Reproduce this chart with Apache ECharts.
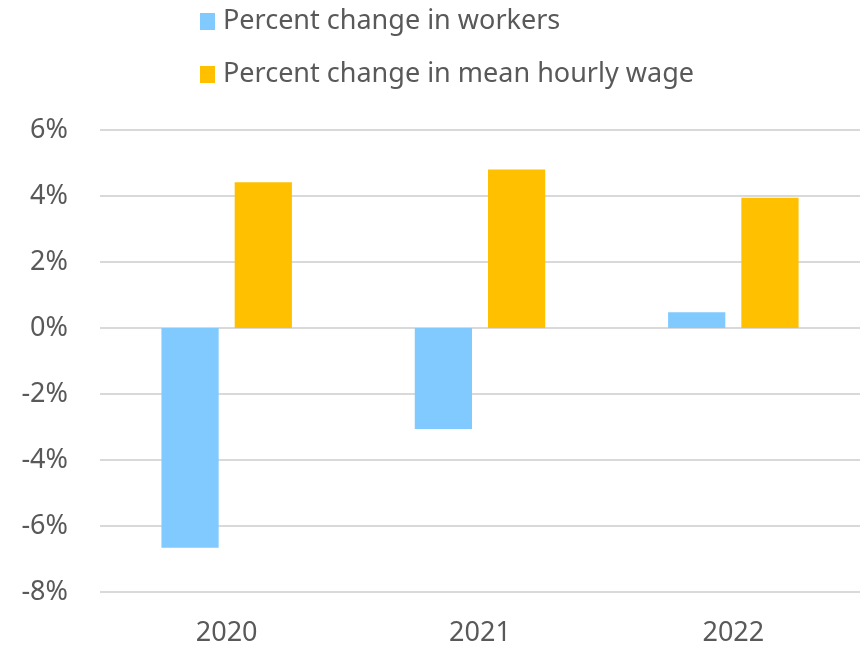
<!DOCTYPE html>
<html>
<head>
    <meta charset="UTF-8">
    <title>Workers and wages</title>
    <script type="text/javascript" src="https://cdn.jsdelivr.net/npm/echarts@6/dist/echarts.min.js"></script>
</head>
<body style="margin:0">
<div id="main" style="width:866px;height:649px"></div>
<script type="text/javascript">
    var years = ['2020', '2021', '2022'];
    var workers = [-6.66, -3.06, 0.48];   // percent change in workers
    var wages = [4.42, 4.80, 3.95];       // percent change in mean hourly wage
    var seriesNames = ['Percent change in workers', 'Percent change in mean hourly wage'];

    var font = 'Noto Sans';
    var textColor = '#595959';

    var myChart = echarts.init(document.getElementById('main'));
    myChart.setOption({
        animation: false,
        legend: {
            orient: 'vertical',
            left: 195,
            top: 3,
            itemWidth: 15,
            itemHeight: 17,
            itemGap: 26,
            icon: 'rect',
            textStyle: {fontFamily: font, fontSize: 27, color: textColor, padding: [0, 0, 0, 3]},
            data: seriesNames
        },
        grid: {left: 100, right: 6, top: 130, bottom: 57},
        xAxis: {
            type: 'category',
            data: years,
            axisLine: {show: false},
            axisTick: {show: false},
            axisLabel: {fontFamily: font, fontSize: 27, color: textColor, margin: 28}
        },
        yAxis: {
            type: 'value',
            min: -8,
            max: 6,
            interval: 2,
            axisLabel: {fontFamily: font, fontSize: 27, color: textColor, margin: 32, formatter: '{value}%'},
            splitLine: {lineStyle: {color: '#d9d9d9', width: 2}}
        },
        series: [{
            name: seriesNames[0],
            type: 'bar',
            data: workers,
            barGap: '28%',
            barCategoryGap: '48.5%',
            itemStyle: {color: '#80caff'}
        }, {
            name: seriesNames[1],
            type: 'bar',
            data: wages,
            itemStyle: {color: '#ffc000'}
        }]
    });
</script>
</body>
</html>
